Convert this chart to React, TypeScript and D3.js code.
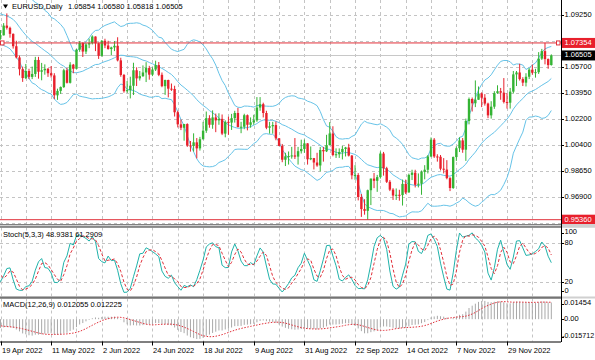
import React from 'react';
import * as d3 from 'd3';

// ---- Data: EURUSD daily bars, 1 Mar 2022 .. 19 Dec 2022 (first 35 bars only feed the indicators) ----
const opens = [
  1.1220,1.1125,1.1120,1.1065,1.0930,1.0855,1.0905,1.1075,1.0985,1.0910,1.0940,1.0955,1.1030,1.1090,1.1050,1.1015,1.1017,1.1000,1.0995,1.0985,1.0988,1.1090,1.1160,
  1.1065,1.1045,1.0970,1.0905,1.0900,1.0880,1.0875,1.0885,1.0830,1.0890,1.0825,1.0810,1.0780,1.0787,1.0853,1.0838,1.0797,1.0713,1.0637,1.0557,1.0497,
  1.0545,1.0505,1.0525,1.0620,1.0540,1.0550,1.0560,1.0530,1.0515,1.0380,1.0410,1.0436,1.0550,1.0465,1.0588,1.0560,1.0690,1.0735,1.0677,1.0725,1.0734,1.0779,
  1.0733,1.0648,1.0750,1.0718,1.0694,1.0705,1.0716,1.0617,1.0518,1.0408,1.0415,1.0445,1.0550,1.0495,1.0510,1.0535,1.0565,1.0520,1.0555,1.0585,1.0519,1.0442,
  1.0484,1.0425,1.0423,1.0265,1.0183,1.0160,1.0185,1.0040,1.0037,1.0061,1.0020,1.0082,1.0140,1.0225,1.0180,1.0230,1.0210,1.0220,1.0120,1.0200,1.0195,
  1.0225,1.0260,1.0165,1.0167,1.0245,1.0180,1.0197,1.0210,1.0297,1.0320,1.0260,1.0160,1.0170,1.0178,1.0088,1.0037,0.9943,0.9966,0.9968,0.9972,0.9964,1.0001,1.0016,
  1.0054,0.9946,0.9954,0.9924,0.9904,1.0009,1.0000,1.0042,1.0121,0.9975,0.9980,0.9995,1.0016,1.0026,0.9971,0.9837,0.9839,0.9690,0.9608,0.9596,0.9736,0.9815,
  0.9800,0.9825,0.9985,0.9885,0.9793,0.9740,0.9700,0.9705,0.9703,0.9779,0.9721,0.9840,0.9855,0.9773,0.9780,0.9860,0.9875,0.9965,1.0079,0.9965,0.9963,
  0.9882,0.9876,0.9818,0.9751,0.9961,1.0021,1.0074,1.0011,1.0206,1.0355,1.0326,1.0350,1.0392,1.0364,1.0324,1.0244,1.0303,1.0395,1.0408,1.0398,1.0335,1.0330,
  1.0405,1.0522,1.0535,1.0490,1.0466,1.0506,1.0554,1.0533,1.0537,1.0629,1.0680,1.0626,1.05854,
];
const highs = [
  1.1235,1.1150,1.1125,1.1065,1.0950,1.0955,1.1085,1.1121,1.1040,1.0995,1.1000,1.1040,1.1137,1.1110,1.1070,1.1045,1.1030,1.1010,1.1035,1.1000,1.1137,1.1185,1.1170,
  1.1075,1.1050,1.0995,1.0935,1.0935,1.0905,1.0925,1.0905,1.0925,1.0925,1.0835,1.0815,1.0823,1.0870,1.0936,1.0846,1.0800,1.0750,1.0650,1.0575,1.0593,
  1.0560,1.0575,1.0641,1.0641,1.0600,1.0590,1.0565,1.0579,1.0530,1.0425,1.0440,1.0560,1.0565,1.0605,1.0593,1.0695,1.0748,1.0740,1.0735,1.0765,1.0787,1.0780,
  1.0738,1.0755,1.0764,1.0750,1.0710,1.0748,1.0774,1.0635,1.0525,1.0477,1.0506,1.0601,1.0570,1.0545,1.0583,1.0605,1.0580,1.0570,1.0615,1.0606,1.0535,1.0486,
  1.0486,1.0460,1.0445,1.0275,1.0215,1.0186,1.0190,1.0070,1.0122,1.0090,1.0098,1.0200,1.0270,1.0245,1.0278,1.0256,1.0258,1.0250,1.0210,1.0235,1.0254,
  1.0275,1.0294,1.0200,1.0255,1.0250,1.0230,1.0248,1.0368,1.0368,1.0330,1.0275,1.0200,1.0200,1.0202,1.0090,1.0050,0.9990,0.9999,1.0030,1.0090,1.0030,1.0079,1.0080,
  1.0055,1.0033,0.9955,0.9990,1.0030,1.0030,1.0112,1.0198,1.0170,1.0020,1.0020,1.0037,1.0030,1.0051,0.9975,0.9906,0.9852,0.9710,0.9675,0.9740,0.9815,0.9853,
  0.9840,0.9999,0.9996,0.9895,0.9805,0.9750,0.9748,0.9739,0.9808,0.9808,0.9849,0.9875,0.9875,0.9850,0.9870,0.9906,0.9975,1.0094,1.0090,0.9980,0.9975,
  0.9954,0.9940,0.9825,0.9965,1.0033,1.0095,1.0090,1.0222,1.0365,1.0365,1.0481,1.0440,1.0400,1.0388,1.0330,1.0340,1.0408,1.0448,1.0430,1.0497,1.0395,1.0430,
  1.0545,1.0545,1.0594,1.0503,1.0530,1.0565,1.0589,1.0560,1.0673,1.0695,1.0736,1.0630,1.06580,
];
const lows = [
  1.1107,1.1060,1.1040,1.0895,1.0806,1.0840,1.0900,1.0970,1.0900,1.0900,1.0900,1.0940,1.1020,1.1000,1.0995,1.0960,1.0965,1.0960,1.0965,1.0945,1.0985,1.1085,1.1055,
  1.1030,1.0965,1.0900,1.0870,1.0870,1.0835,1.0840,1.0820,1.0805,1.0760,1.0800,1.0760,1.0757,1.0786,1.0826,1.0771,1.0697,1.0630,1.0515,1.0471,1.0490,
  1.0490,1.0490,1.0505,1.0493,1.0482,1.0520,1.0505,1.0500,1.0354,1.0349,1.0390,1.0430,1.0460,1.0460,1.0530,1.0555,1.0675,1.0640,1.0660,1.0700,1.0725,1.0680,
  1.0627,1.0642,1.0700,1.0690,1.0653,1.0680,1.0610,1.0506,1.0398,1.0397,1.0359,1.0382,1.0443,1.0480,1.0505,1.0470,1.0486,1.0510,1.0545,1.0510,1.0435,1.0383,
  1.0366,1.0410,1.0236,1.0162,1.0144,1.0072,1.0030,0.9998,0.9998,0.9952,1.0005,1.0080,1.0125,1.0160,1.0153,1.0130,1.0180,1.0110,1.0095,1.0112,1.0145,
  1.0195,1.0162,1.0123,1.0150,1.0142,1.0160,1.0180,1.0200,1.0275,1.0230,1.0150,1.0120,1.0120,1.0075,1.0035,0.9926,0.9900,0.9910,0.9950,0.9948,0.9910,0.9985,0.9990,
  0.9910,0.9940,0.9877,0.9895,0.9864,0.9930,0.9995,1.0040,0.9966,0.9955,0.9955,0.9945,0.9965,0.9965,0.9810,0.9807,0.9667,0.9555,0.9570,0.9536,0.9635,0.9750,
  0.9725,0.9815,0.9835,0.9785,0.9730,0.9670,0.9670,0.9665,0.9632,0.9710,0.9720,0.9805,0.9755,0.9755,0.9705,0.9810,0.9850,0.9960,0.9955,0.9930,0.9870,
  0.9850,0.9810,0.9730,0.9745,0.9935,0.9995,0.9990,0.9935,1.0183,1.0270,1.0300,1.0350,1.0300,1.0310,1.0225,1.0222,1.0288,1.0390,1.0350,1.0325,1.0290,1.0290,
  1.0392,1.0443,1.0480,1.0443,1.0440,1.0490,1.0520,1.0500,1.0525,1.0620,1.0590,1.0560,1.05818,
];
const closes = [
  1.1125,1.1120,1.1065,1.0930,1.0855,1.0905,1.1075,1.0985,1.0910,1.0940,1.0955,1.1030,1.1090,1.1050,1.1015,1.1017,1.1000,1.0995,1.0985,1.0988,1.1090,1.1160,1.1065,
  1.1045,1.0970,1.0905,1.0900,1.0880,1.0875,1.0885,1.0830,1.0890,1.0825,1.0810,1.0780,1.0787,1.0853,1.0838,1.0797,1.0713,1.0637,1.0557,1.0497,1.0545,
  1.0505,1.0525,1.0620,1.0540,1.0550,1.0560,1.0530,1.0515,1.0380,1.0410,1.0436,1.0550,1.0465,1.0588,1.0560,1.0690,1.0735,1.0677,1.0725,1.0734,1.0779,1.0733,
  1.0648,1.0750,1.0718,1.0694,1.0705,1.0716,1.0617,1.0518,1.0408,1.0415,1.0445,1.0550,1.0495,1.0510,1.0535,1.0565,1.0520,1.0555,1.0585,1.0519,1.0442,1.0484,
  1.0425,1.0423,1.0265,1.0183,1.0160,1.0185,1.0040,1.0037,1.0061,1.0020,1.0082,1.0140,1.0225,1.0180,1.0230,1.0210,1.0220,1.0120,1.0200,1.0195,1.0225,
  1.0260,1.0165,1.0167,1.0245,1.0180,1.0197,1.0210,1.0297,1.0320,1.0260,1.0160,1.0170,1.0178,1.0088,1.0037,0.9943,0.9966,0.9968,0.9972,0.9964,1.0001,1.0016,1.0054,
  0.9946,0.9954,0.9924,0.9904,1.0009,1.0000,1.0042,1.0121,0.9975,0.9980,0.9995,1.0016,1.0026,0.9971,0.9837,0.9839,0.9690,0.9608,0.9596,0.9736,0.9815,0.9800,
  0.9825,0.9985,0.9885,0.9793,0.9740,0.9700,0.9705,0.9703,0.9779,0.9721,0.9840,0.9855,0.9773,0.9780,0.9860,0.9875,0.9965,1.0079,0.9965,0.9963,0.9882,
  0.9876,0.9818,0.9751,0.9961,1.0021,1.0074,1.0011,1.0206,1.0355,1.0326,1.0350,1.0392,1.0364,1.0324,1.0244,1.0303,1.0395,1.0408,1.0398,1.0335,1.0330,1.0405,
  1.0522,1.0535,1.0490,1.0466,1.0506,1.0554,1.0533,1.0537,1.0629,1.0680,1.0626,1.0585,1.06505,
];

const timeLabels = ['19 Apr 2022','11 May 2022','2 Jun 2022','24 Jun 2022','18 Jul 2022','9 Aug 2022','31 Aug 2022','22 Sep 2022','14 Oct 2022','7 Nov 2022','29 Nov 2022'];
const priceTicks = [1.0925, 1.0750, 1.0570, 1.0395, 1.0220, 1.0040, 0.9865, 0.9690, 0.9515];
const priceTickLabels = ['1.09250','1.07500','1.05700','1.03950','1.02200','1.00400','0.98650','0.96900','0.95150'];
const stochTicks = [100, 80, 20, 0];
const macdTicks = [0.01454, 0, -0.015712];
const macdTickLabels = ['0.01454','0.00','-0.015712'];
const highLevel = 1.07354;
const lowLevel = 0.9536;
const bidPrice = 1.06505;
const titleSymbol = 'EURUSD,Daily';
const titleOHLC = '1.05854 1.06580 1.05818 1.06505';
const stochTitle = 'Stoch(5,3,3) 48.9381 61.2909';
const macdTitle = 'MACD(12,26,9) 0.012055 0.012225';

const FONT = 'Liberation Sans, Arial, sans-serif';
const FS = 7.5;
const UP = '#34b434';
const DOWN = '#e8202c';
const BAND = '#66c3e8';
const GRID = '#c4c4c4';
const RIGHT = 561;

function sma(arr: (number | null)[], p: number, i: number) {
  if (i < p - 1) return null;
  let s = 0;
  for (let k = i - p + 1; k <= i; k++) { const v = arr[k]; if (v == null) return null; s += v; }
  return s / p;
}

export default function App() {
  const n = closes.length;
  const dates: Date[] = [];
  const d = new Date(2022, 2, 1);
  while (dates.length < n) {
    const w = d.getDay();
    if (w !== 0 && w !== 6) dates.push(new Date(d));
    d.setDate(d.getDate() + 1);
  }
  const fmt = d3.timeFormat('%-d %b %Y');
  const dateStr = dates.map(fmt);
  const labelIdx = timeLabels.map((t) => dateStr.indexOf(t));
  const x = d3.scaleLinear().domain([labelIdx[0], labelIdx[labelIdx.length - 1]]).range([0.5, 507]);

  // panels
  const mainTop = 0, mainBot = 224;
  const yP = d3.scaleLinear().domain([1.0925 - 209 / 1473.7, 1.0925 + 15 / 1473.7]).range([mainBot, mainTop]);
  const stTop = 227.5, stBot = 296.5;
  const yS = d3.scaleLinear().domain([0, 100]).range([294.7, 229.7]);
  const mcTop = 298.5, mcBot = 341.5;
  const yM = d3.scaleLinear().domain([-0.015712, 0.01454]).range([341, 299]);

  // Bollinger 20,2
  const mid: (number | null)[] = [], up: (number | null)[] = [], lo: (number | null)[] = [];
  for (let i = 0; i < n; i++) {
    const m = sma(closes, 20, i);
    if (m == null) { mid.push(null); up.push(null); lo.push(null); continue; }
    let v = 0;
    for (let k = i - 19; k <= i; k++) v += (closes[k] - m) ** 2;
    const sd = Math.sqrt(v / 20);
    mid.push(m); up.push(m + 2 * sd); lo.push(m - 2 * sd);
  }
  // Stochastic 5,3,3
  const kArr: (number | null)[] = [];
  for (let i = 0; i < n; i++) {
    if (i < 6) { kArr.push(null); continue; }
    let num = 0, den = 0;
    for (let j = i - 2; j <= i; j++) {
      const hh = d3.max(highs.slice(j - 4, j + 1))!;
      const ll = d3.min(lows.slice(j - 4, j + 1))!;
      num += closes[j] - ll; den += hh - ll;
    }
    kArr.push(den === 0 ? 100 : (100 * num) / den);
  }
  const dArr = kArr.map((_, i) => sma(kArr, 3, i));
  // MACD 12,26,9
  const e12: number[] = [], e26: number[] = [];
  closes.forEach((c, i) => {
    e12.push(i === 0 ? c : e12[i - 1] + (2 / 13) * (c - e12[i - 1]));
    e26.push(i === 0 ? c : e26[i - 1] + (2 / 27) * (c - e26[i - 1]));
  });
  const macd = closes.map((_, i) => e12[i] - e26[i]);
  const signal = macd.map((_, i) => sma(macd, 9, i));

  const idx = d3.range(n);
  const lineOf = (arr: (number | null)[], ys: d3.ScaleLinear<number, number>) =>
    d3.line<number>().defined((i) => arr[i] != null).x((i) => x(i)).y((i) => ys(arr[i] as number))(idx) || '';

  const vGrid: number[] = [];
  labelIdx.forEach((li) => { vGrid.push(li); vGrid.push(li + 8); });

  // price labels hidden behind the marker labels (as in the terminal)
  const markerYs = [yP(highLevel), yP(bidPrice), yP(lowLevel)];
  const hiddenLabel = (p: number) => markerYs.some((my) => Math.abs(yP(p) - my) < 8);

  const txt = { fontFamily: FONT, fontSize: FS, fill: '#000' } as const;

  return (
    <svg width={595} height={360} style={{ position: 'absolute', left: 0, top: 0, background: '#fff' }}>
      <defs>
        <clipPath id="cMain"><rect x={0} y={mainTop} width={RIGHT} height={mainBot - mainTop} /></clipPath>
        <clipPath id="cSt"><rect x={0} y={stTop} width={RIGHT} height={stBot - stTop} /></clipPath>
        <clipPath id="cMc"><rect x={0} y={mcTop} width={RIGHT} height={mcBot - mcTop} /></clipPath>
      </defs>
      <rect x={0} y={0} width={595} height={360} fill="#fff" />

      {/* ---------- main panel ---------- */}
      <g clipPath="url(#cMain)">
        {vGrid.map((g) => (
          <line key={'vg' + g} x1={Math.round(x(g)) + 0.5} x2={Math.round(x(g)) + 0.5} y1={mainTop} y2={mainBot} stroke={GRID} strokeDasharray="3,3" />
        ))}
        {priceTicks.map((p) => (
          <line key={'hg' + p} x1={0} x2={RIGHT} y1={Math.round(yP(p)) + 0.5} y2={Math.round(yP(p)) + 0.5} stroke={GRID} strokeDasharray="3,3" />
        ))}
        <line x1={0} x2={RIGHT} y1={Math.round(yP(bidPrice)) + 0.5} y2={Math.round(yP(bidPrice)) + 0.5} stroke="#c8c8c8" strokeWidth={1} />
        <path d={lineOf(up, yP)} fill="none" stroke={BAND} strokeWidth={1} />
        <path d={lineOf(mid, yP)} fill="none" stroke={BAND} strokeWidth={1} />
        <path d={lineOf(lo, yP)} fill="none" stroke={BAND} strokeWidth={1} />
        {idx.map((i) => {
          const cx = x(i);
          if (cx < -5) return null;
          const bull = closes[i] >= opens[i];
          const col = bull ? UP : DOWN;
          const yT = yP(Math.max(opens[i], closes[i]));
          const yB = yP(Math.min(opens[i], closes[i]));
          return (
            <g key={'c' + i}>
              <line x1={cx} x2={cx} y1={yP(highs[i])} y2={yP(lows[i])} stroke={col} strokeWidth={1} />
              <rect x={cx - 1.2} y={yT} width={2.4} height={Math.max(1, yB - yT)} fill={col} />
            </g>
          );
        })}
        <line x1={0} x2={RIGHT} y1={yP(highLevel)} y2={yP(highLevel)} stroke="#e0303a" strokeWidth={1} />
        <line x1={0} x2={RIGHT} y1={yP(lowLevel)} y2={yP(lowLevel)} stroke="#e0303a" strokeWidth={1} />
        <rect x={0.5} y={yP(highLevel) - 2} width={3.5} height={4} fill="#fff" stroke="#e0303a" strokeWidth={1} />
        <rect x={RIGHT - 4.5} y={yP(highLevel) - 2} width={3.5} height={4} fill="#fff" stroke="#e0303a" strokeWidth={1} />
      </g>
      <path d="M3,4.5 L8,4.5 L5.5,8.5 Z" fill="#000" />
      <text x={12} y={6.7} dominantBaseline="middle" {...txt}>{titleSymbol}</text>
      <text x={68} y={6.7} dominantBaseline="middle" {...txt}>{titleOHLC}</text>

      {/* ---------- stochastic panel ---------- */}
      <g clipPath="url(#cSt)">
        {vGrid.map((g) => (
          <line key={'svg' + g} x1={Math.round(x(g)) + 0.5} x2={Math.round(x(g)) + 0.5} y1={stTop} y2={stBot} stroke={GRID} strokeDasharray="3,3" />
        ))}
        {[80, 20].map((l) => (
          <line key={'sl' + l} x1={0} x2={RIGHT} y1={Math.round(yS(l)) + 0.5} y2={Math.round(yS(l)) + 0.5} stroke={GRID} strokeDasharray="3,3" />
        ))}
        <path d={lineOf(kArr, yS)} fill="none" stroke="#20b2aa" strokeWidth={1} />
        <path d={lineOf(dArr, yS)} fill="none" stroke="#e0303a" strokeWidth={1} strokeDasharray="3,2" />
      </g>
      <text x={3} y={235} dominantBaseline="middle" {...txt}>{stochTitle}</text>

      {/* ---------- MACD panel ---------- */}
      <g clipPath="url(#cMc)">
        {vGrid.map((g) => (
          <line key={'mvg' + g} x1={Math.round(x(g)) + 0.5} x2={Math.round(x(g)) + 0.5} y1={mcTop} y2={mcBot} stroke={GRID} strokeDasharray="3,3" />
        ))}
        {idx.map((i) => (
          <line key={'h' + i} x1={x(i)} x2={x(i)} y1={yM(0)} y2={yM(macd[i])} stroke="#a8a8a8" strokeWidth={1} />
        ))}
        <path d={lineOf(signal, yM)} fill="none" stroke="#e0303a" strokeWidth={1} strokeDasharray="1.5,1.5" />
      </g>
      <text x={3} y={305} dominantBaseline="middle" {...txt}>{macdTitle}</text>

      {/* ---------- separators and frame ---------- */}
      <rect x={0} y={mainBot} width={595} height={stTop - mainBot} fill="#d0d0d0" />
      <line x1={0} x2={RIGHT} y1={mainBot + 0.5} y2={mainBot + 0.5} stroke="#808080" />
      <line x1={0} x2={RIGHT} y1={stTop - 0.5} y2={stTop - 0.5} stroke="#404040" />
      <rect x={0} y={stBot} width={595} height={mcTop - stBot} fill="#d0d0d0" />
      <line x1={0} x2={RIGHT} y1={stBot + 0.5} y2={stBot + 0.5} stroke="#808080" />
      <line x1={0} x2={RIGHT} y1={mcTop - 0.5} y2={mcTop - 0.5} stroke="#404040" />
      <line x1={0} x2={RIGHT} y1={mcBot + 0.5} y2={mcBot + 0.5} stroke="#000" />
      <line x1={RIGHT + 0.5} x2={RIGHT + 0.5} y1={0} y2={mcBot + 0.5} stroke="#000" />

      {/* right axis: price */}
      {priceTicks.map((p, k) => (
        <g key={'pt' + p}>
          <line x1={RIGHT} x2={RIGHT + 3} y1={Math.round(yP(p)) + 0.5} y2={Math.round(yP(p)) + 0.5} stroke="#000" />
          {!hiddenLabel(p) && (
            <text x={564.5} y={yP(p)} dominantBaseline="middle" {...txt}>{priceTickLabels[k]}</text>
          )}
        </g>
      ))}
      <rect x={562} y={yP(highLevel) - 5} width={33} height={10} fill="#e8202c" />
      <text x={564.5} y={yP(highLevel)} dominantBaseline="middle" {...txt} fill="#fff">{highLevel.toFixed(5)}</text>
      <rect x={562} y={yP(bidPrice) - 5} width={33} height={10} fill="#000" />
      <text x={564.5} y={yP(bidPrice)} dominantBaseline="middle" {...txt} fill="#fff">{bidPrice.toFixed(5)}</text>
      <rect x={562} y={yP(lowLevel) - 5} width={33} height={10} fill="#e8202c" />
      <text x={564.5} y={yP(lowLevel)} dominantBaseline="middle" {...txt} fill="#fff">{lowLevel.toFixed(5)}</text>
      <rect x={562} y={mainBot} width={33} height={stTop - mainBot} fill="#d0d0d0" />

      {/* right axis: stochastic */}
      {stochTicks.map((t) => {
        const yy = Math.min(Math.max(yS(t), stTop + 5), stBot - 5.5);
        return (
          <g key={'st' + t}>
            <line x1={RIGHT} x2={RIGHT + 3} y1={Math.round(yy) + 0.5} y2={Math.round(yy) + 0.5} stroke="#000" />
            <text x={564.5} y={yy} dominantBaseline="middle" {...txt}>{String(t)}</text>
          </g>
        );
      })}
      {/* right axis: MACD */}
      {macdTicks.map((t, k) => {
        const yy = Math.min(Math.max(yM(t), mcTop + 5), mcBot - 5);
        const long = macdTickLabels[k].length > 7;
        return (
          <g key={'mt' + k}>
            <line x1={RIGHT} x2={RIGHT + 3} y1={Math.round(yy) + 0.5} y2={Math.round(yy) + 0.5} stroke="#000" />
            <text x={long ? 562.2 : 564} y={yy} dominantBaseline="middle" {...txt} fontSize={long ? 7.1 : FS}>{macdTickLabels[k]}</text>
          </g>
        );
      })}

      {/* time axis */}
      {labelIdx.map((li, k) => (
        <g key={'tl' + li}>
          <line x1={Math.round(x(li)) + 0.5} x2={Math.round(x(li)) + 0.5} y1={mcBot} y2={mcBot + 4} stroke="#000" />
          <text x={Math.round(x(li)) + 1} y={351} dominantBaseline="middle" {...txt}>{timeLabels[k]}</text>
        </g>
      ))}
    </svg>
  );
}
